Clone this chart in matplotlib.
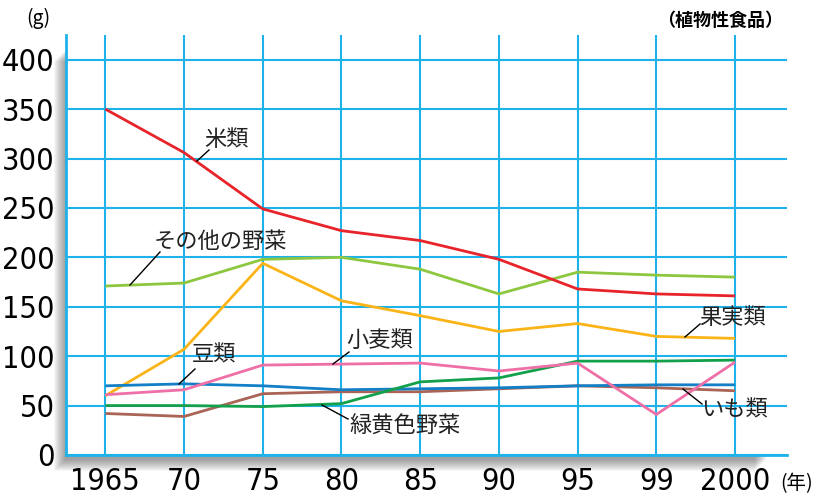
import matplotlib
matplotlib.use("Agg")
import matplotlib.pyplot as plt
from matplotlib.patches import Rectangle

plt.rcParams["font.family"] = ["Noto Sans CJK JP", "DejaVu Sans"]

years = ["1965", "70", "75", "80", "85", "90", "95", "99", "2000"]
rice = [350, 306, 249, 227, 217, 198, 168, 163, 161]
other_veg = [171, 174, 198, 200, 188, 163, 185, 182, 180]
fruit = [60, 107, 194, 156, 141, 125, 133, 120, 118]
wheat = [61, 66, 91, 92, 93, 85, 93, 41, 94]
beans = [70, 72, 70, 66, 67, 68, 70, 71, 71]
gy_veg = [50, 50, 49, 52, 74, 78, 95, 95, 96]
potato = [42, 39, 62, 64, 64, 67, 70, 68, 65]
yticks = [0, 50, 100, 150, 200, 250, 300, 350, 400]

series = [
    (other_veg, "#8dc63f"),
    (fruit, "#fbb418"),
    (potato, "#a96456"),
    (beans, "#127fc6"),
    (gy_veg, "#13a04b"),
    (wheat, "#ef6fa7"),
    (rice, "#e8232a"),
]

GRID = "#1db3ea"
W, H = 827, 497
fig = plt.figure(figsize=(W / 100, H / 100), dpi=100)
L, R, B, T = 66, 787, 455, 35
ax = fig.add_axes([L / W, (H - B) / H, (R - L) / W, (B - T) / H])

# soft shadow to the lower-left of the plot panel
for i in range(12):
    d = i + 1
    fig.patches.append(Rectangle(((L - d) / W, (H - B - d - 4) / H), (R - L - 20) / W, (B - T - 10) / H,
                                 transform=fig.transFigure, facecolor="black",
                                 alpha=0.035, edgecolor="none", zorder=0))
ax.set_zorder(1)

x = list(range(len(years)))
for vals, c in series:
    ax.plot(x, vals, color=c, lw=2.0, solid_capstyle="butt", zorder=3)

ax.set_xlim(-0.5, 8.66)
ax.set_ylim(0, 425)
ax.set_xticks(x)
ax.set_yticks(yticks)
ax.grid(True, color=GRID, lw=1.5, zorder=1)
ax.tick_params(length=0, pad=8)
for s in ["top", "right"]:
    ax.spines[s].set_visible(False)
for s in ["left", "bottom"]:
    ax.spines[s].set_color(GRID)
    ax.spines[s].set_linewidth(2)
num_font = dict(fontsize=22, family=["DejaVu Sans"], fontstretch="condensed")
ax.set_xticklabels(years, **num_font)
ax.set_yticklabels([str(v) for v in yticks], **num_font)
ax.tick_params(axis="x", pad=9)

# labels with leader lines (pixel coords -> figure fraction)
def fx(px):
    return px / W

def fy(py):
    return (H - py) / H

labels = [
    ("米類", 204, 140, (197, 161), (209, 150)),
    ("その他の野菜", 154, 241, (130, 285), (160, 252)),
    ("豆類", 192, 355, (179, 384), (195, 369)),
    ("小麦類", 346, 340, (333, 364), (349, 352)),
    ("緑黄色野菜", 349, 426, (322, 405), (348, 419)),
    ("果実類", 699, 318, (685, 337), (700, 324)),
    ("いも類", 701, 410, (683, 389), (702, 404)),
]
for txt, tx, ty, p0, p1 in labels:
    fig.text(fx(tx), fy(ty), txt, fontsize=16, ha="left", va="center", color="#222222", zorder=5)
    fig.add_artist(plt.Line2D([fx(p0[0]), fx(p1[0])], [fy(p0[1]), fy(p1[1])],
                              color="black", lw=1.0, zorder=5))

fig.text(fx(38), fy(18), "(g)", fontsize=14, ha="center", va="center")
fig.text(fx(720), fy(20), "（植物性食品）", fontsize=13, weight="bold", ha="center", va="center")
fig.text(fx(797), fy(484), "(年)", fontsize=14, ha="center", va="center")

fig.savefig("out.png", dpi=100)
